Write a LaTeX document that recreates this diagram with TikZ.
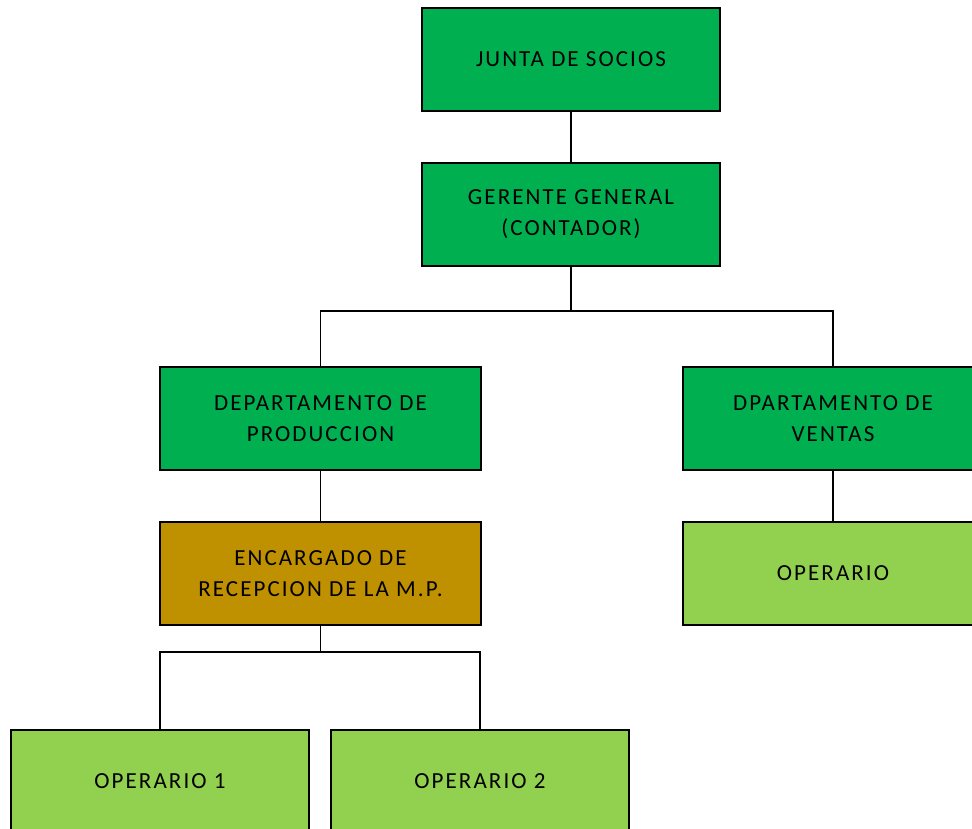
\documentclass[tikz,border=0pt]{standalone}
\usepackage{fontspec}
\setmainfont{Carlito}[LetterSpace=9]
\definecolor{darkgreen}{HTML}{00B050}
\definecolor{gold}{HTML}{BF9000}
\definecolor{lightgreen}{HTML}{92D050}
\begin{document}
\begin{tikzpicture}[x=1pt,y=-1pt,
  box/.style={draw=black, line width=1.5pt, rectangle, anchor=north west,
    minimum width=298pt, minimum height=103pt, align=center, inner sep=0pt,
    outer sep=0pt, font=\fontsize{23}{31}\selectfont},
  wide/.style={minimum width=321pt},
  link/.style={draw=black, line width=1.5pt}]
\useasboundingbox (0,0) rectangle (972,829);
\clip (0,0) rectangle (972,829);
\node[box, fill=darkgreen] (junta) at (422,8) {JUNTA DE SOCIOS};
\node[box, fill=darkgreen] (gerente) at (422,163) {GERENTE GENERAL\\(CONTADOR)};
\node[box, wide, fill=darkgreen] (prod) at (160,367) {DEPARTAMENTO DE\\PRODUCCION};
\node[box, fill=darkgreen, minimum width=300pt] (ventas) at (683,367) {DPARTAMENTO DE\\VENTAS};
\node[box, wide, fill=gold] (enc) at (160,522) {ENCARGADO DE\\RECEPCION DE LA M.P.};
\node[box, fill=lightgreen, minimum width=300pt] (oper) at (683,522) {OPERARIO};
\node[box, fill=lightgreen] (op1) at (11,730) {OPERARIO 1};
\node[box, fill=lightgreen] (op2) at (331,730) {OPERARIO 2};
\draw[link] (junta.south) -- (gerente.north);
\draw[link] (gerente.south) -- ++(0,45) coordinate (split1);
\draw[link] (split1) -| (prod.north);
\draw[link] (split1) -| (ventas.north);
\draw[link] (prod.south) -- (enc.north);
\draw[link] (ventas.south) -- (oper.north);
\draw[link] (enc.south) -- ++(0,27) coordinate (split2);
\draw[link] (split2) -| (op1.north);
\draw[link] (split2) -| (op2.north);
\end{tikzpicture}
\end{document}
